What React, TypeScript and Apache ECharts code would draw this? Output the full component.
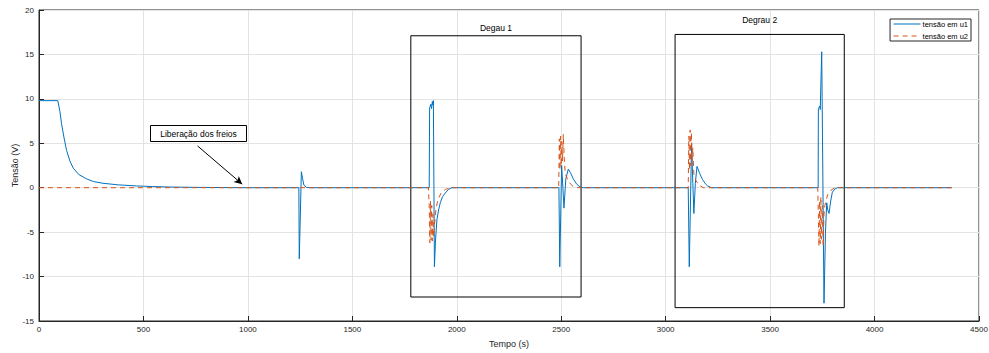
import React, { useEffect, useRef } from "react";
import * as echarts from "echarts";

const u1Time = [0, 90, 100, 108, 120, 132, 148, 164, 190, 227, 260, 306, 380, 466, 545, 625, 740, 865, 1000,
  1244, 1246, 1256, 1262, 1268, 1280, 1295,
  1868, 1870, 1876, 1879, 1883, 1886, 1888, 1893, 1898, 1905, 1913, 1921, 1932, 1945, 1960, 1977,
  2489, 2493, 2502, 2508, 2513, 2522, 2534, 2546, 2558, 2574, 2590, 2605,
  3108, 3113, 3124, 3130, 3135, 3142, 3150, 3163, 3177, 3190, 3201, 3220,
  3730, 3731, 3738, 3740, 3747, 3758, 3765, 3771, 3776, 3782, 3790, 3798, 3810, 3822, 4370];
const u1Volt = [9.8, 9.8, 8.6, 7.2, 5.6, 4.2, 3.0, 2.2, 1.5, 1.0, 0.7, 0.5, 0.32, 0.2, 0.13, 0.08, 0.04, 0.02, 0,
  0, -8.0, 1.8, 1.0, 0.3, 0.05, 0,
  0, 9.0, 9.4, 8.9, 9.7, 9.3, 9.8, -8.9, -6.0, -3.6, -2.5, -1.7, -1.0, -0.6, -0.2, 0,
  0, -8.9, 2.5, 0, -2.3, 1.0, 2.1, 1.6, 1.0, 0.4, 0.1, 0,
  0, -8.9, 5.0, 0.5, -2.9, 0.5, 2.4, 1.6, 0.9, 0.45, 0.2, 0,
  0, 8.9, 9.2, 8.8, 15.3, -13.0, -5.0, -1.7, -2.5, -2.9, -1.5, -0.5, -0.15, 0, 0];

const u2Time = [0, 1864, 1868, 1871, 1874, 1877, 1880, 1883, 1886, 1889, 1894, 1900, 1910, 1925, 1945, 1970,
  2488, 2491, 2494, 2497, 2500, 2503, 2506, 2510, 2514, 2518, 2522, 2533, 2545, 2560, 2580,
  3108, 3111, 3114, 3117, 3120, 3123, 3126, 3130, 3135, 3145, 3160, 3180,
  3728, 3731, 3734, 3737, 3740, 3743, 3746, 3750, 3754, 3758, 3762, 3768, 3775, 3790, 3810, 4370];
const u2Volt = [0, 0, -2, -6.2, -1.5, -5.9, -2.0, -6.0, -3.0, -5.5, -4.0, -2.5, -1.3, -0.6, -0.2, 0,
  0, 5.5, 2.0, 5.8, 2.5, 5.2, 3.0, 6.0, 3.5, 2.0, 1.4, 0.8, 0.4, 0.1, 0,
  0, 5.8, 2.0, 6.5, 2.5, 6.2, 3.0, 4.5, 1.5, 0.8, 0.3, 0,
  0, -3.0, -6.6, -1.5, -6.3, -1.0, -5.8, -2.0, -6.6, -3.0, -2.0, -1.5, -0.8, -0.3, 0, 0];

const seriesNames = ["tensão em u1", "tensão em u2"];
const boxLabels = ["Degau 1", "Degrau 2"];
const box1 = [[1780, 17.1], [2595, -12.3]];
const box2 = [[3045, 17.25], [3855, -13.5]];
const arrowFrom = [759, 4.7];
const arrowTo = [973, 0.4];
const annotationText = "Liberação dos freios";

const zip = (a: number[], b: number[]) => a.map((v, i) => [v, b[i]]);

export default function App() {
  const ref = useRef<HTMLDivElement>(null);
  useEffect(() => {
    if (!ref.current) return;
    const chart = echarts.init(ref.current, undefined, { renderer: "svg" });
    const font = "Liberation Sans, Arial, sans-serif";
    const axisColor = "#262626";
    chart.setOption({
      animation: false,
      backgroundColor: "#ffffff",
      textStyle: { fontFamily: font },
      grid: {
        left: 39, right: 10, top: 10, bottom: 32,
        containLabel: false, outerBoundsMode: "none",
        show: true, borderColor: axisColor, borderWidth: 1, backgroundColor: "transparent",
      },
      legend: {
        data: seriesNames.map((n) => ({ name: n })),
        orient: "vertical",
        right: 18,
        top: 19,
        itemWidth: 27,
        itemHeight: 9,
        itemGap: 4,
        padding: [1, 3, 1, 3],
        borderColor: axisColor,
        borderWidth: 1,
        backgroundColor: "#fff",
        itemStyle: { opacity: 0 },
        lineStyle: { width: 1 },
        textStyle: { fontSize: 7.5, color: "#000", fontFamily: font, padding: [0, 0, 0, -3] },
      },
      xAxis: {
        type: "value",
        min: 0,
        max: 4500,
        interval: 500,
        name: "Tempo (s)",
        nameLocation: "middle",
        nameGap: 18,
        nameMoveOverlap: false,
        nameTextStyle: { fontSize: 9, color: axisColor, fontFamily: font },
        axisLine: { onZero: false, lineStyle: { color: axisColor } },
        axisTick: { inside: true, length: 5, lineStyle: { color: axisColor } },
        axisLabel: { fontSize: 8, color: axisColor, margin: 4, fontFamily: font, formatter: (v: number) => String(v) },
        splitLine: { show: true, lineStyle: { color: "#e3e3e3" } },
      },
      yAxis: {
        type: "value",
        min: -15,
        max: 20,
        interval: 5,
        name: "Tensão (V)",
        nameLocation: "middle",
        nameGap: 20,
        nameMoveOverlap: false,
        nameTextStyle: { fontSize: 9, color: axisColor, fontFamily: font },
        axisLine: { show: true, onZero: false, lineStyle: { color: axisColor } },
        axisTick: { show: true, inside: true, length: 5, lineStyle: { color: axisColor } },
        axisLabel: { fontSize: 8, color: axisColor, margin: 5, fontFamily: font, formatter: (v: number) => String(v) },
        splitLine: { show: true, lineStyle: { color: "#e3e3e3" } },
      },
      series: [
        {
          name: seriesNames[0],
          type: "line",
          data: zip(u1Time, u1Volt),
          showSymbol: false,
          symbol: "none",
          lineStyle: { color: "#0072BD", width: 1 },
          itemStyle: { color: "#0072BD" },
          z: 3,
          markArea: {
            silent: true,
            itemStyle: { color: "rgba(0,0,0,0)", borderColor: "#000", borderWidth: 1 },
            label: { show: true, position: "top", color: "#000", fontSize: 8.5, fontFamily: font, distance: 3 },
            data: [
              [{ name: boxLabels[0], coord: box1[0] }, { coord: box1[1] }],
              [{ name: boxLabels[1], coord: box2[0], label: { distance: 9 } }, { coord: box2[1] }],
            ],
          },
          markLine: {
            silent: true,
            symbol: ["none", "arrow"],
            symbolSize: [6, 8],
            label: { show: false },
            lineStyle: { color: "#000", width: 1, type: "solid" },
            data: [[{ coord: arrowFrom }, { coord: arrowTo }]],
          },
        },
        {
          name: seriesNames[1],
          type: "line",
          data: zip(u2Time, u2Volt),
          showSymbol: false,
          symbol: "none",
          lineStyle: { color: "#D95319", width: 1, type: [5, 4] },
          itemStyle: { color: "#D95319" },
          z: 4,
        },
      ],
      graphic: [
        {
          type: "rect",
          shape: { x: 150.5, y: 125.5, width: 96, height: 16 },
          style: { fill: "#fff", stroke: "#000", lineWidth: 1 },
          z: 10,
        },
        {
          type: "text",
          x: 198.5,
          y: 133.5,
          style: { text: annotationText, fontSize: 8.5, fill: "#000", fontFamily: font, align: "center", verticalAlign: "middle" },
          z: 11,
        },
      ],
    });
    return () => chart.dispose();
  }, []);
  return <div ref={ref} style={{ width: 989, height: 353, position: "absolute", left: 0, top: 0 }} />;
}
